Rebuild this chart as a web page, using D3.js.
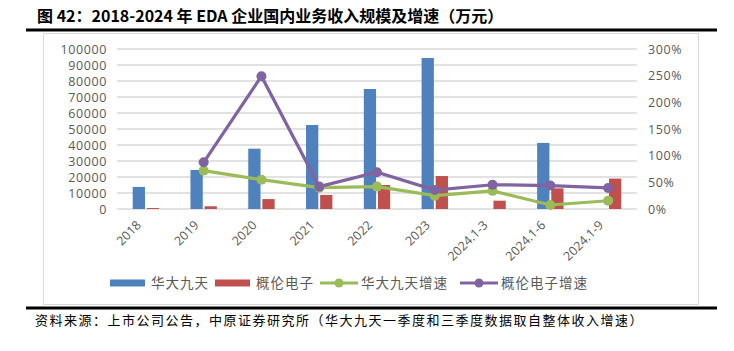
<!DOCTYPE html>
<html>
<head>
<meta charset="utf-8">
<script src="https://cdn.jsdelivr.net/npm/d3@7"></script>
<style>
  body { margin: 0; background: #fff; }
  svg { display: block; }
  .tick text { font-family: "Open Sans", "DejaVu Sans", sans-serif; fill: #595959; }
  .cjk { font-family: "Noto Sans CJK SC", sans-serif; }
</style>
</head>
<body>
<svg width="734" height="351"></svg>
<script>
var categories = ['2018', '2019', '2020', '2021', '2022', '2023', '2024.1-3', '2024.1-6', '2024.1-9'];
var huadaRevenue = [13800, 24400, 37700, 52500, 75000, 94400, null, 41300, null];
var gailunRevenue = [600, 1700, 6200, 8800, 15000, 20600, 5200, 12900, 19000];
var huadaGrowth = [null, 0.72, 0.55, 0.40, 0.42, 0.25, 0.34, 0.075, 0.155];
var gailunGrowth = [null, 0.875, 2.49, 0.42, 0.69, 0.355, 0.455, 0.44, 0.395];
var leftTicks = [0, 10000, 20000, 30000, 40000, 50000, 60000, 70000, 80000, 90000, 100000];
var rightTicks = [0, 0.5, 1, 1.5, 2, 2.5, 3];

var svg = d3.select('svg');

// title + frame lines
svg.append('text')
    .attr('class', 'cjk')
    .attr('x', 37).attr('y', 22)
    .style('font-size', '16px').style('font-weight', 'bold')
    .style('fill', '#000')
    .text('图 42：2018-2024 年 EDA 企业国内业务收入规模及增速（万元）');

svg.append('rect')
    .attr('x', 43.5).attr('y', 33.5).attr('width', 655).attr('height', 271)
    .style('fill', '#fff').style('stroke', '#d9d9d9');

svg.append('line').attr('x1', 26).attr('x2', 717).attr('y1', 30).attr('y2', 30)
    .style('stroke', '#000').style('stroke-width', 3);
svg.append('line').attr('x1', 26).attr('x2', 717).attr('y1', 308).attr('y2', 308)
    .style('stroke', '#000').style('stroke-width', 3);

svg.append('text')
    .attr('class', 'cjk')
    .attr('x', 35).attr('y', 325)
    .style('font-size', '13px').style('letter-spacing', '1.5px')
    .style('fill', '#000')
    .text('资料来源：上市公司公告，中原证券研究所（华大九天一季度和三季度数据取自整体收入增速）');

// scales
var xScale = d3.scaleBand()
    .domain(categories)
    .range([117, 637])
    .paddingInner(0.48)
    .paddingOuter(0.24);

var innerScale = d3.scaleBand()
    .domain(['huada', 'gailun'])
    .range([0, xScale.bandwidth()])
    .padding(0.13);

var yLeft = d3.scaleLinear().domain([0, 100000]).range([209, 49]);
var yRight = d3.scaleLinear().domain([0, 3]).range([209, 49]);

// gridlines
svg.append('g')
    .selectAll('line')
    .data(leftTicks)
    .enter()
    .append('line')
    .attr('x1', 117).attr('x2', 637)
    .attr('y1', function(d){ return yLeft(d); })
    .attr('y2', function(d){ return yLeft(d); })
    .style('stroke', '#d9d9d9').style('stroke-width', 1.5);

// axes
var leftAxis = d3.axisLeft(yLeft).tickValues(leftTicks).tickSize(0).tickPadding(10).tickFormat(d3.format('d'));
svg.append('g')
    .attr('transform', 'translate(117,0)')
    .call(leftAxis)
    .call(function(g){ g.select('.domain').remove(); })
    .selectAll('text').style('font-size', '12.5px').style('letter-spacing', '0.6px');

var rightAxis = d3.axisRight(yRight).tickValues(rightTicks).tickSize(0).tickPadding(11).tickFormat(d3.format('.0%'));
svg.append('g')
    .attr('transform', 'translate(637,0)')
    .call(rightAxis)
    .call(function(g){ g.select('.domain').remove(); })
    .selectAll('text').style('font-size', '12.5px').style('letter-spacing', '0.6px');

svg.append('g')
    .selectAll('text')
    .data(categories)
    .enter()
    .append('text')
    .attr('transform', function(d){
        var c = xScale(d) + xScale.bandwidth() / 2;
        return 'translate(' + (c - 4) + ',226) rotate(-45)';
    })
    .attr('text-anchor', 'end')
    .style('font-family', '"Open Sans", "DejaVu Sans", sans-serif')
    .style('font-size', '12.5px')
    .style('fill', '#595959')
    .text(function(d){ return d; });

// bars
var barSeries = [
    { key: 'huada', values: huadaRevenue, color: '#4f81bd' },
    { key: 'gailun', values: gailunRevenue, color: '#c0504d' }
];

barSeries.forEach(function(s){
    svg.append('g')
        .selectAll('rect')
        .data(categories.map(function(c, i){ return { cat: c, v: s.values[i] }; })
            .filter(function(d){ return d.v != null; }))
        .enter()
        .append('rect')
        .attr('x', function(d){ return xScale(d.cat) + innerScale(s.key); })
        .attr('y', function(d){ return yLeft(d.v); })
        .attr('width', innerScale.bandwidth())
        .attr('height', function(d){ return yLeft(0) - yLeft(d.v); })
        .style('fill', s.color);
});

// lines
var lineSeries = [
    { values: huadaGrowth, color: '#9bbb59' },
    { values: gailunGrowth, color: '#8064a2' }
];

var line = d3.line()
    .defined(function(d){ return d.v != null; })
    .x(function(d){ return xScale(d.cat) + xScale.bandwidth() / 2; })
    .y(function(d){ return yRight(d.v); });

lineSeries.forEach(function(s){
    var pts = categories.map(function(c, i){ return { cat: c, v: s.values[i] }; });
    svg.append('path')
        .datum(pts)
        .attr('d', line)
        .style('fill', 'none')
        .style('stroke', s.color)
        .style('stroke-width', 3.2);
    svg.append('g')
        .selectAll('circle')
        .data(pts.filter(function(d){ return d.v != null; }))
        .enter()
        .append('circle')
        .attr('cx', function(d){ return xScale(d.cat) + xScale.bandwidth() / 2; })
        .attr('cy', function(d){ return yRight(d.v); })
        .attr('r', 5)
        .style('fill', s.color);
});

// legend
var legendY = 283;
var legendItems = [
    { name: '华大九天', color: '#4f81bd', type: 'rect', x: 110 },
    { name: '概伦电子', color: '#c0504d', type: 'rect', x: 215 },
    { name: '华大九天增速', color: '#9bbb59', type: 'line', x: 320 },
    { name: '概伦电子增速', color: '#8064a2', type: 'line', x: 460 }
];

var legend = svg.append('g');
legendItems.forEach(function(d){
    if (d.type === 'rect') {
        legend.append('rect')
            .attr('x', d.x).attr('y', legendY - 3.5)
            .attr('width', 35).attr('height', 7)
            .style('fill', d.color);
    } else {
        legend.append('line')
            .attr('x1', d.x).attr('x2', d.x + 38)
            .attr('y1', legendY).attr('y2', legendY)
            .style('stroke', d.color).style('stroke-width', 3.2);
        legend.append('circle')
            .attr('cx', d.x + 19).attr('cy', legendY).attr('r', 4.5)
            .style('fill', d.color);
    }
    legend.append('text')
        .attr('class', 'cjk')
        .attr('x', d.x + 41).attr('y', legendY + 5)
        .style('font-size', '13.5px').style('letter-spacing', '1px')
        .style('fill', '#595959')
        .text(d.name);
});
</script>
</body>
</html>
